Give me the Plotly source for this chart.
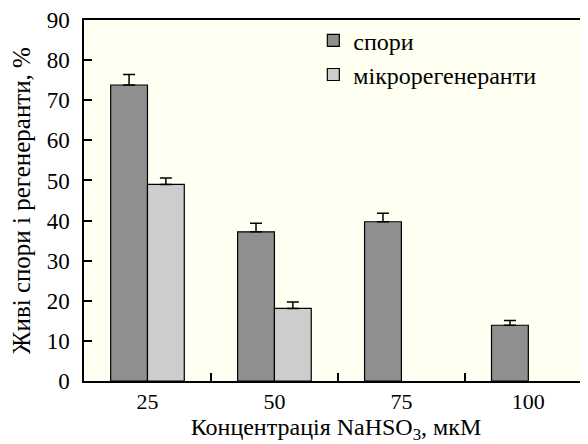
import plotly.graph_objects as go

categories = ["25", "50", "75", "100"]
spory = [73.8, 37.2, 39.7, 13.9]
spory_err = [2.6, 2.1, 2.1, 1.2]
mikro = [49.0, 18.1, None, None]
mikro_err = [1.6, 1.6, None, None]

FAM = "Liberation Serif"

fig = go.Figure()
fig.add_trace(go.Bar(
    x=categories, y=spory, name="спори",
    marker=dict(color="#8f8f8f", line=dict(color="black", width=1.2)),
    error_y=dict(type="data", array=spory_err, symmetric=False, arrayminus=[0]*4,
                 color="black", thickness=1.5, width=6),
))
fig.add_trace(go.Bar(
    x=categories, y=mikro, name="мікрорегенеранти",
    marker=dict(color="#cdcdcd", line=dict(color="black", width=1.2)),
    error_y=dict(type="data", array=mikro_err, symmetric=False, arrayminus=[0]*4,
                 color="black", thickness=1.5, width=6),
))

fig.update_layout(
    width=580, height=436,
    margin=dict(l=76, r=0, t=7, b=63),
    paper_bgcolor="white", plot_bgcolor="#fffff2",
    font=dict(family=FAM, size=22, color="black"),
    barmode="group", bargap=0.42, bargroupgap=0,
    showlegend=True,
    legend=dict(x=0.455, y=1.005, xanchor="left", yanchor="top",
                bgcolor="rgba(0,0,0,0)", font=dict(size=24, family=FAM),
                tracegroupgap=0),
    xaxis=dict(
        type="category", range=[-0.5, 3.47],
        showline=True, linecolor="black", linewidth=1.5, mirror=True,
        ticks="inside", tickson="boundaries", ticklen=8, tickcolor="black", tickwidth=1.5,
        showgrid=False,
        tickfont=dict(family=FAM, size=22),
        title=dict(text="Концентрація NaHSO<sub>3</sub>, мкМ", standoff=5,
                   font=dict(family=FAM, size=24)),
    ),
    yaxis=dict(
        range=[0, 90], dtick=10,
        showline=True, linecolor="black", linewidth=1.5,
        ticks="inside", ticklen=8, tickcolor="black", tickwidth=1.5,
        showgrid=False, zeroline=False, ticklabeloverflow="allow",
        ticklabelstandoff=8,
        tickfont=dict(family=FAM, size=23),
        title=dict(text="Живі спори і регенеранти, %", standoff=12,
                   font=dict(family=FAM, size=25)),
    ),
)

fig.write_html("out.html")
